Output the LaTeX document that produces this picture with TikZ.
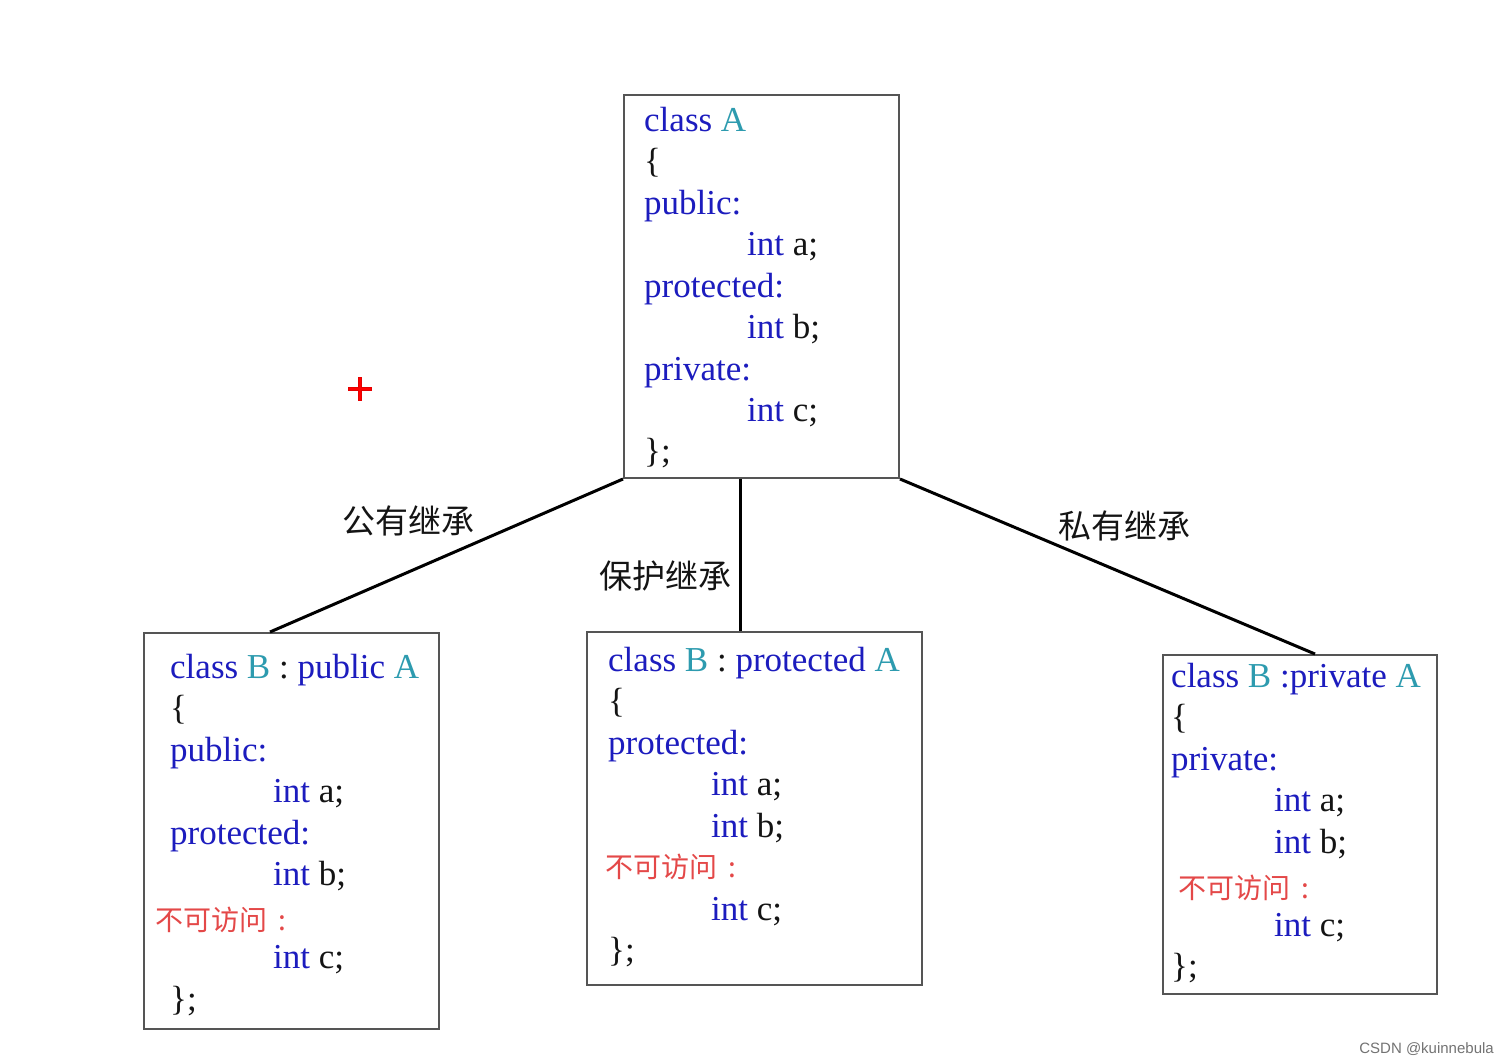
\documentclass[tikz,border=0pt]{standalone}
\usepackage{fontspec}
\setmainfont{Liberation Serif}
\newfontfamily\cjk{Noto Sans CJK SC}
\newfontfamily\wmfont{Liberation Sans}
\usetikzlibrary{calc}
\definecolor{kw}{RGB}{28,28,190}
\definecolor{cls}{RGB}{45,155,175}
\definecolor{inac}{RGB}{228,72,72}
\definecolor{framec}{RGB}{85,85,85}
\definecolor{txt}{RGB}{20,20,20}
\newcommand{\kw}[1]{\textcolor{kw}{#1}}
\newcommand{\cl}[1]{\textcolor{cls}{#1}}
\begin{document}
\begin{tikzpicture}[x=1pt,y=-1pt,
  box/.style={draw=framec, line width=2pt, rectangle, inner sep=0pt, anchor=north west},
  code/.style={anchor=base west, inner sep=0pt, text=txt, font=\fontsize{35}{42}\selectfont},
  inacc/.style={anchor=base west, inner sep=0pt, text=inac, font=\cjk\fontsize{28}{34}\selectfont},
  inh/.style={anchor=center, inner sep=0pt, text=txt, font=\cjk\fontsize{33}{40}\selectfont},
  link/.style={draw=black, line width=3pt}]
\useasboundingbox (0,0) rectangle (1508,1063);
\fill[white] (0,0) rectangle (1508,1063);

% boxes
\node[box, minimum width=275pt, minimum height=383pt] (A) at (623,94) {};
\node[box, minimum width=295pt, minimum height=396pt] (B1) at (143,632) {};
\node[box, minimum width=335pt, minimum height=353pt] (B2) at (586,631) {};
\node[box, minimum width=274pt, minimum height=339pt] (B3) at (1162,654) {};

% connectors
\draw[link] (A.south west) -- ($(B1.north west)+(127,0)$);
\draw[link] ($(A.south west)+(117,0)$) -- ($(B2.north west)+(154,0)$);
\draw[link] (A.south east) -- ($(B3.north west)+(153,0)$);

% labels
\node[inh] (l1) at (408,521) {公有继承};
\node[inh] (l2) at (665,576) {保护继承};
\node[inh] (l3) at (1124,526) {私有继承};

% class A
\node[code] (a1) at (644,131) {\kw{class} \cl{A}};
\node[code] (a2) at (644,172) {\{};
\node[code] (a3) at (644,214) {\kw{public:}};
\node[code] (a4) at (747,255) {\kw{int} a;};
\node[code] (a5) at (644,297) {\kw{protected:}};
\node[code] (a6) at (747,338) {\kw{int} b;};
\node[code] (a7) at (644,380) {\kw{private:}};
\node[code] (a8) at (747,421) {\kw{int} c;};
\node[code] (a9) at (644,462) {\};};

% class B : public A
\node[code] (b1) at (170,678) {\kw{class} \cl{B} : \kw{public} \cl{A}};
\node[code] (b2) at (170,719) {\{};
\node[code] (b3) at (170,761) {\kw{public:}};
\node[code] (b4) at (273,802) {\kw{int} a;};
\node[code] (b5) at (170,844) {\kw{protected:}};
\node[code] (b6) at (273,885) {\kw{int} b;};
\node[inacc] (b7) at (155,930) {不可访问\hspace{11pt}:};
\node[code] (b8) at (273,968) {\kw{int} c;};
\node[code] (b9) at (170,1010) {\};};

% class B : protected A
\node[code] (c1) at (608,671) {\kw{class} \cl{B} : \kw{protected} \cl{A}};
\node[code] (c2) at (608,712) {\{};
\node[code] (c3) at (608,754) {\kw{protected:}};
\node[code] (c4) at (711,795) {\kw{int} a;};
\node[code] (c5) at (711,837) {\kw{int} b;};
\node[inacc] (c6) at (605,877) {不可访问\hspace{11pt}:};
\node[code] (c7) at (711,920) {\kw{int} c;};
\node[code] (c8) at (608,961) {\};};

% class B :private A
\node[code] (d1) at (1171,687) {\kw{class} \cl{B} \kw{:private} \cl{A}};
\node[code] (d2) at (1171,728) {\{};
\node[code] (d3) at (1171,770) {\kw{private:}};
\node[code] (d4) at (1274,811) {\kw{int} a;};
\node[code] (d5) at (1274,853) {\kw{int} b;};
\node[inacc] (d6) at (1178,898) {不可访问\hspace{11pt}:};
\node[code] (d7) at (1274,936) {\kw{int} c;};
\node[code] (d8) at (1171,977) {\};};

% red plus marker
\draw[red!90!black, line width=3.5pt] (348,389) -- (372,389) (360,377) -- (360,401);
\draw[red, line width=2pt] (349,389) -- (371,389) (360,378) -- (360,400);

% watermark
\node[anchor=base east, inner sep=0pt, text=black!55, font=\wmfont\fontsize{15}{18}\selectfont] (wm) at (1494,1053) {CSDN @kuinnebula};
\end{tikzpicture}
\end{document}
